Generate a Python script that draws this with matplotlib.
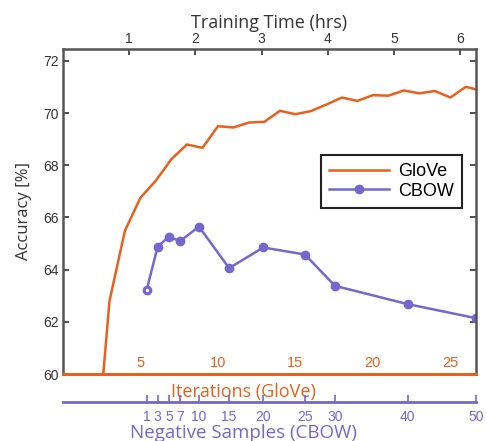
import matplotlib
matplotlib.use("Agg")
import matplotlib.pyplot as plt

# GloVe: accuracy per training iteration
glove_iter = [2, 3, 4, 5, 6, 7, 8, 9, 10, 11, 12, 13, 14, 15, 16, 17, 18, 19, 20,
              21, 22, 23, 24, 25, 26, 27]
glove_acc = [55.8, 62.8, 65.5, 66.76, 67.42, 68.24, 68.8, 68.67, 69.5, 69.45,
             69.64, 69.67, 70.09, 69.96, 70.08, 70.33, 70.6, 70.47, 70.69, 70.67,
             70.87, 70.76, 70.85, 70.6, 71.01, 70.86]

# CBOW: accuracy per number of negative samples, placed by training time (hrs)
cbow_neg = [1, 3, 5, 7, 10, 15, 20, 25, 30, 40, 50]
cbow_time = [1.264, 1.43, 1.60, 1.767, 2.054, 2.51, 3.026, 3.656, 4.109, 5.207, 6.24]
cbow_acc = [63.22, 64.88, 65.27, 65.09, 65.65, 64.06, 64.85, 64.58, 63.38, 62.68, 62.14]

hours_ticks = [1, 2, 3, 4, 5, 6]
iter_ticks = [5, 10, 15, 20, 25]
acc_ticks = [60, 62, 64, 66, 68, 70, 72]

HRS_PER_ITER = 0.2341
ORANGE = "#E8601C"
PURPLE = "#7468CC"
GRAY = "#333333"

plt.rcParams["font.family"] = ["Liberation Sans", "DejaVu Sans"]
label_font = ["Open Sans", "DejaVu Sans"]

fig = plt.figure(figsize=(4.86, 4.41), dpi=100)
L, R = 63 / 486, 476 / 486
B, T = 1 - 374 / 441, 1 - 49 / 441
ax = fig.add_axes([L, B, R - L, T - B])

glove_time = [n * HRS_PER_ITER for n in glove_iter]
ax.plot(glove_time, glove_acc, color=ORANGE, lw=1.8, label="GloVe")
ax.plot(cbow_time, cbow_acc, color=PURPLE, lw=1.8, marker="o", ms=6, label="CBOW")
ax.plot(cbow_time[:1], cbow_acc[:1], ls="none", marker="o", ms=4, mfc="white",
        mec=PURPLE, mew=1.5)

ax.set_xlim(0, 6.24)
ax.set_ylim(60, 72.46)

# top axis: training time
ax.xaxis.tick_top()
ax.set_xticks(hours_ticks)
ax.tick_params(axis="x", direction="in", length=4, width=1.2, labelsize=10,
               colors=GRAY, pad=2)
ax.set_xlabel("Training Time (hrs)", fontsize=13, family=label_font, color=GRAY)
ax.xaxis.set_label_position("top")
ax.xaxis.set_label_coords(0.5, 1.065)

ax.set_yticks(acc_ticks)
ax.tick_params(axis="y", direction="in", length=4, width=1.2, right=True,
               labelsize=10, colors=GRAY, pad=3)
ax.set_ylabel("Accuracy [%]", fontsize=12, family=label_font, color=GRAY)
ax.yaxis.set_label_coords(-0.075, 0.5)

for side in ["left", "right", "top"]:
    ax.spines[side].set_color("#555555")
    ax.spines[side].set_linewidth(1.8)
ax.spines["bottom"].set_color(ORANGE)
ax.spines["bottom"].set_linewidth(2)

# bottom axis: iterations (labels inside the plot)
sec = ax.secondary_xaxis("bottom", functions=(lambda h: h / HRS_PER_ITER,
                                              lambda n: n * HRS_PER_ITER))
sec.set_xticks(iter_ticks)
sec.tick_params(axis="x", direction="in", length=0, pad=-13, labelsize=10.5,
                labelcolor=ORANGE)
sec.spines["bottom"].set_color(ORANGE)
sec.spines["bottom"].set_linewidth(2)
sec.set_xlabel("Iterations (GloVe)", fontsize=13, family=label_font,
               color=ORANGE)
sec.xaxis.set_label_coords(0.5, 1 - 383 / 441, transform=fig.transFigure)

# negative samples axis below
yb = 1 - 402 / 441
ax_ns = fig.add_axes([L, yb, R - L, 0.0001])
ax_ns.set_xlim(ax.get_xlim())
ax_ns.set_yticks([])
for side in ["left", "right", "top"]:
    ax_ns.spines[side].set_visible(False)
ax_ns.spines["bottom"].set_color(PURPLE)
ax_ns.spines["bottom"].set_linewidth(2)
ax_ns.set_xticks(cbow_time)
ax_ns.set_xticklabels([str(v) for v in cbow_neg])
ax_ns.tick_params(axis="x", direction="in", length=5, width=1.2, color=PURPLE,
                  labelcolor=PURPLE, labelsize=10, pad=6)
ax_ns.set_xlabel("Negative Samples (CBOW)", fontsize=13.5, family=label_font,
                 color=PURPLE)
ax_ns.xaxis.set_label_coords(0.5, 1 - 424 / 441, transform=fig.transFigure)

leg = ax.legend(loc="upper right", bbox_to_anchor=(0.966, 0.674), fontsize=13,
                handlelength=3.3, fancybox=False, framealpha=1,
                edgecolor="#222222", borderpad=0.45, labelspacing=0.15,
                handletextpad=0.5, borderaxespad=0)
leg.get_frame().set_linewidth(1.5)

fig.savefig("out.png", dpi=100)
